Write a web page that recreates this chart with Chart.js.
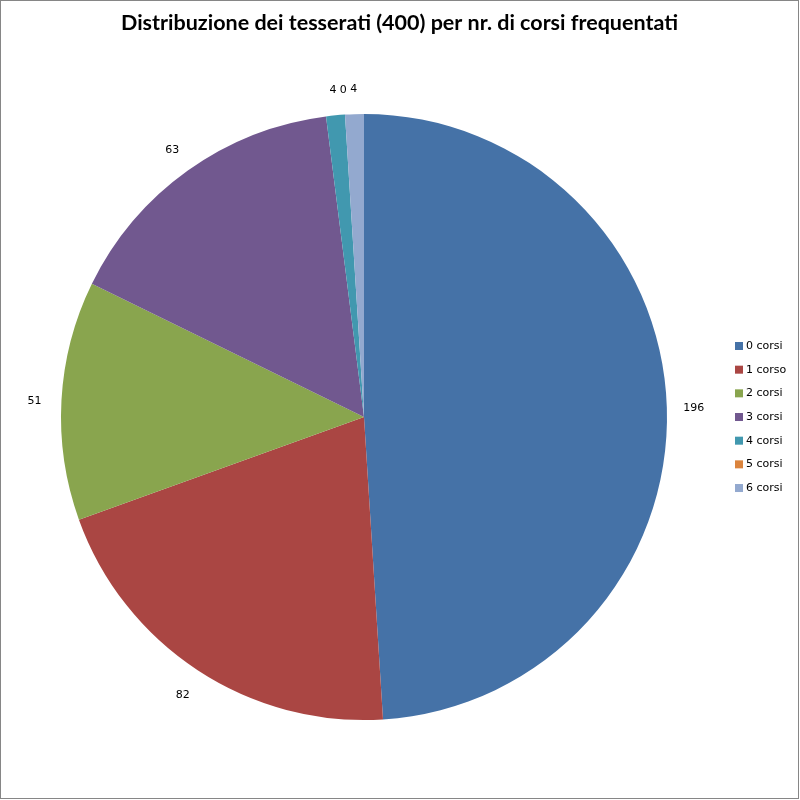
<!DOCTYPE html>
<html>
<head>
<meta charset="utf-8">
<script src="https://cdn.jsdelivr.net/npm/chart.js@4"></script>
<style>
html,body{margin:0;padding:0;background:#fff;}
#wrap{width:800px;height:800px;position:relative;}
</style>
</head>
<body>
<div id="wrap"><canvas id="c" width="800" height="800"></canvas></div>
<script>
const categories = ['0 corsi','1 corso','2 corsi','3 corsi','4 corsi','5 corsi','6 corsi'];
const values = [196, 82, 51, 63, 4, 0, 4];
const colors = ['#4572A7','#AA4643','#89A54E','#71588F','#4198AF','#DB843D','#93A9CF'];
const titleText = 'Distribuzione dei tesserati (400) per nr. di corsi frequentati';

const outsideLabels = {
  id: 'outsideLabels',
  afterDatasetsDraw(chart) {
    const ctx = chart.ctx;
    const meta = chart.getDatasetMeta(0);
    ctx.save();
    ctx.font = '11px "DejaVu Sans"';
    ctx.fillStyle = '#000';
    ctx.textAlign = 'center';
    ctx.textBaseline = 'middle';
    meta.data.forEach((arc, i) => {
      const p = arc.getProps(['x','y','startAngle','endAngle','outerRadius'], true);
      const mid = (p.startAngle + p.endAngle) / 2;
      const r = p.outerRadius + 27;
      ctx.fillText(String(values[i]), p.x + Math.cos(mid) * r, p.y + Math.sin(mid) * r + 2);
    });
    ctx.restore();
  }
};

const sideLegend = {
  id: 'sideLegend',
  afterDraw(chart) {
    const ctx = chart.ctx;
    const labels = chart.data.labels;
    const bg = chart.data.datasets[0].backgroundColor;
    ctx.save();
    ctx.font = '11px "DejaVu Sans"';
    ctx.textAlign = 'left';
    ctx.textBaseline = 'middle';
    const x0 = 735, y0 = 346, step = 23.67;
    labels.forEach((lab, i) => {
      const y = y0 + i * step;
      ctx.fillStyle = bg[i];
      ctx.fillRect(x0, y - 4, 8, 8);
      ctx.fillStyle = '#000';
      ctx.fillText(lab, x0 + 11, y);
    });
    ctx.restore();
  }
};

const chartTitle = {
  id: 'chartTitle',
  afterDraw(chart) {
    const ctx = chart.ctx;
    ctx.save();
    ctx.font = 'bold 21.5px Lato';
    ctx.fillStyle = '#000';
    ctx.textAlign = 'center';
    ctx.textBaseline = 'alphabetic';
    ctx.fillText(titleText, 399.5, 30);
    ctx.restore();
  }
};

const border = {
  id: 'border',
  beforeDraw(chart) {
    const ctx = chart.ctx;
    ctx.save();
    ctx.fillStyle = '#fff';
    ctx.fillRect(0, 0, 800, 800);
    ctx.restore();
  },
  afterDraw(chart) {
    const ctx = chart.ctx;
    ctx.save();
    ctx.strokeStyle = '#868686';
    ctx.lineWidth = 1;
    ctx.strokeRect(0.5, 0.5, 798, 798);
    ctx.restore();
  }
};

new Chart(document.getElementById('c'), {
  type: 'pie',
  data: {
    labels: categories,
    datasets: [{
      data: values,
      backgroundColor: colors,
      borderWidth: 0
    }]
  },
  options: {
    responsive: false,
    animation: false,
    layout: { padding: { top: 114, bottom: 80, left: 5, right: 77 } },
    plugins: {
      title: { display: false },
      legend: { display: false },
      tooltip: { enabled: false }
    }
  },
  plugins: [outsideLabels, sideLegend, chartTitle, border]
});
</script>
</body>
</html>
